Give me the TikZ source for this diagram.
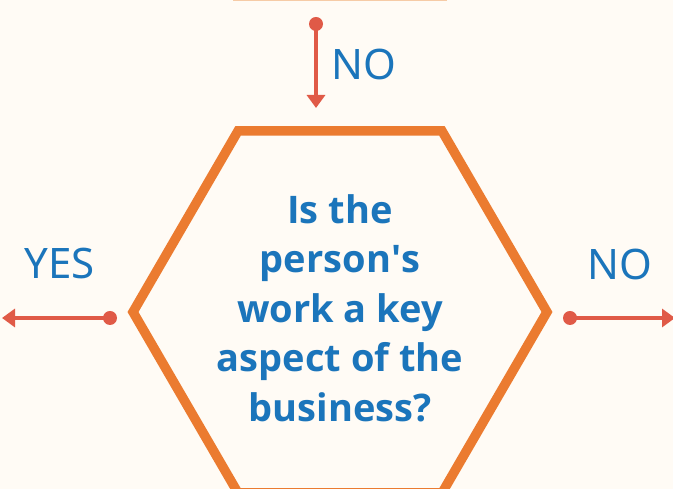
\documentclass[tikz,border=0pt]{standalone}
\usepackage{fontspec}
\setmainfont{Open Sans}
\newfontfamily\labelfont{Noto Sans}
\usetikzlibrary{arrows.meta}
\definecolor{bgcream}{HTML}{FFFBF5}
\definecolor{hexorange}{HTML}{EB7B30}
\definecolor{fadeorange}{HTML}{F6CBA6}
\definecolor{arrowred}{HTML}{E05A47}
\definecolor{textblue}{HTML}{1B75BB}
\tikzset{
  hexline/.style={draw=hexorange, line width=9.5pt, line join=miter},
  flowarrow/.style={draw=arrowred, line width=3.5pt, -{Triangle[length=13pt,width=18pt]}},
  dotnode/.style={circle, fill=arrowred, inner sep=0pt, minimum size=14pt},
  answer/.style={text=textblue, font=\labelfont\fontsize{42}{50}\selectfont, inner sep=0pt},
  question/.style={text=textblue, font=\bfseries\fontsize{38}{49.5}\selectfont, align=center, inner sep=0pt}
}
\begin{document}
\begin{tikzpicture}[x=1pt,y=1pt]
  \fill[bgcream] (0,0) rectangle (673,489);
  \useasboundingbox (0,0) rectangle (673,489);
  \begin{scope}
    \clip (0,0) rectangle (673,489);
    % faded edge of previous shape
    \draw[fadeorange, line width=2.5pt] (233,489) -- (447,489);
    % hexagon
    \coordinate (hL) at (133,177);
    \coordinate (hTL) at (238,358);
    \coordinate (hTR) at (442,358);
    \coordinate (hR) at (547,177);
    \coordinate (hBR) at (442,-4);
    \coordinate (hBL) at (238,-4);
    \draw[hexline] (hL) -- (hTL) -- (hTR) -- (hR) -- (hBR) -- (hBL) -- cycle;
    \node[question] (q) at (340,181) {Is the\\person\textquotesingle s\\work a key\\aspect of the\\business?};
    % top arrow
    \node[dotnode] (dtop) at (316,465) {};
    \coordinate (ttop) at (316,381);
    \draw[flowarrow] (dtop.center) -- (ttop);
    \node[answer] (ltop) at (364,425) {NO};
    % left arrow
    \node[dotnode] (dleft) at (110,171) {};
    \coordinate (tleft) at (2,171);
    \draw[flowarrow] (dleft.center) -- (tleft);
    \node[answer] (lleft) at (59.5,225) {YES};
    % right arrow
    \node[dotnode] (dright) at (570,171) {};
    \coordinate (tright) at (675,171);
    \draw[flowarrow] (dright.center) -- (tright);
    \node[answer] (lright) at (620,225) {NO};
  \end{scope}
\end{tikzpicture}
\end{document}
